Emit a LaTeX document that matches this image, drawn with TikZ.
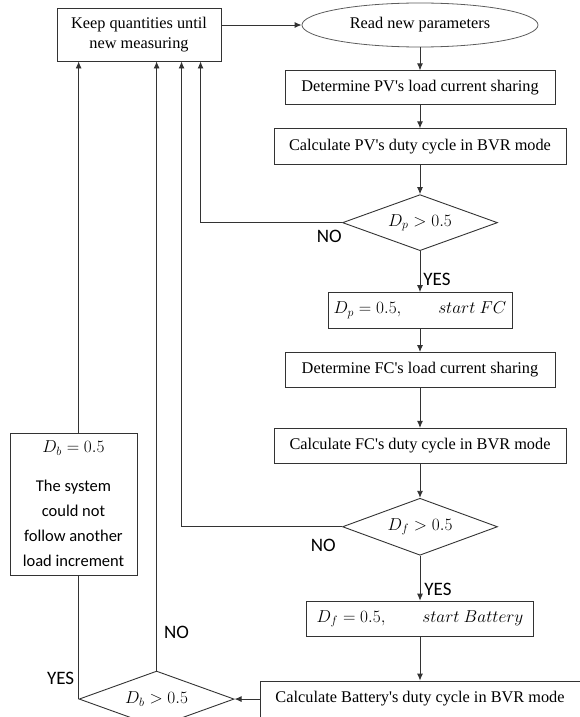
\documentclass[tikz,border=0pt]{standalone}
\usepackage{amsmath}
\usepackage{fontspec}
\setmainfont{Liberation Serif}
\newfontfamily\calibri{Carlito}
\usepackage{tikz}
\usetikzlibrary{arrows.meta,positioning,shapes.geometric}
\definecolor{linegray}{HTML}{333333}

\begin{document}
\begin{tikzpicture}[x=1pt, y=-1pt,
  node distance=23pt,
  box/.style={draw=linegray, line width=0.9pt, inner sep=0pt, align=center,
              font=\fontsize{16.3}{19.5}\selectfont, minimum height=35pt},
  cond/.style={draw=linegray, line width=0.9pt, diamond, aspect=2.75, inner sep=0pt,
               minimum width=155pt, minimum height=56pt, font=\fontsize{17}{20}\selectfont},
  readbox/.style={draw=linegray!80, line width=0.8pt, ellipse, inner sep=0pt,
                  font=\fontsize{16.3}{19.5}\selectfont},
  arrow/.style={-{Latex[length=7pt,width=6pt]}, line width=0.9pt, draw=linegray},
  wire/.style={line width=0.9pt, draw=linegray},
  answer/.style={font=\calibri\fontsize{19}{20}\selectfont, inner sep=0pt}
]
  \useasboundingbox (0,0) rectangle (579,717);

  \node[box, minimum width=164pt, minimum height=53pt] (keep) at (139,34.5)
    {Keep quantities until\\new measuring};
  \node[readbox, minimum width=236pt, minimum height=44pt] (read) at (420,25)
    {Read new parameters};
  \node[box, minimum width=270pt, minimum height=34pt, below=of read] (pv)
    {Determine PV\textquotesingle s load current sharing};
  \node[box, minimum width=292pt, minimum height=36pt, below=of pv] (calcpv)
    {Calculate PV\textquotesingle s duty cycle in BVR mode};
  \node[cond, below=29pt of calcpv] (dpq) {$D_p > 0.5$};
  \node[box, minimum width=184pt, minimum height=36pt, below=41pt of dpq] (dpset)
    {\fontsize{17}{20}\selectfont$D_p = 0.5, \qquad start\ FC$};
  \node[box, minimum width=270pt, below=of dpset] (fc)
    {Determine FC\textquotesingle s load current sharing};
  \node[box, minimum width=292pt, below=40pt of fc] (calcfc)
    {Calculate FC\textquotesingle s duty cycle in BVR mode};
  \node[cond, minimum height=57pt, below=34pt of calcfc] (dfq) {$D_f > 0.5$};
  \node[box, minimum width=227pt, below=45pt of dfq] (dfset)
    {\fontsize{17}{20}\selectfont$D_f = 0.5, \qquad start\ Battery$};
  \node[box, minimum width=320pt, minimum height=36pt, below=44pt of dfset] (calcbat)
    {Calculate Battery\textquotesingle s duty cycle in BVR mode};
  \node[cond, left=25pt of calcbat] (dbq) {$D_b > 0.5$};
  \node[box, minimum width=127pt, minimum height=142pt,
        font=\calibri\fontsize{16.5}{25}\selectfont] (dbbox) at (73.5,504)
    {$D_b = 0.5$\\[14pt]The system\\could not\\follow another\\load increment};

  % main column
  \draw[arrow] (keep.east |- read.west) -- (read.west);
  \draw[arrow] (read) -- (pv);
  \draw[arrow] (pv) -- (calcpv);
  \draw[arrow] (calcpv) -- (dpq);
  \draw[arrow] (dpq) -- (dpset)
    node[answer, pos=1, anchor=south west, xshift=3pt, yshift=6pt]{YES};
  \draw[arrow] (dpset) -- (fc);
  \draw[arrow] (fc) -- (calcfc);
  \draw[arrow] (calcfc) -- (dfq);
  \draw[arrow] (dfq) -- (dfset)
    node[answer, pos=1, anchor=south west, xshift=4pt, yshift=5pt]{YES};
  \draw[arrow] (dfset) -- (calcbat);
  \draw[arrow] (calcbat) -- (dbq);

  % back to keep
  \draw[arrow] (dpq.west) -| ([xshift=144pt]keep.south west)
    node[answer, pos=0, anchor=north east, yshift=-7pt]{NO};
  \draw[arrow] (dfq.west) -| ([xshift=125pt]keep.south west)
    node[answer, pos=0, anchor=north east, xshift=-6pt, yshift=-12pt]{NO};
  \draw[arrow] (dbq.north) -- (dbq.north |- keep.south)
    node[answer, pos=0, anchor=south west, xshift=7pt, yshift=32pt]{NO};
  \draw[wire] (dbq.west) -- (dbq.west |- dbbox.south)
    node[answer, pos=0, anchor=south east, xshift=-4pt, yshift=14pt]{YES};
  \draw[arrow] (dbbox.north -| dbq.west) -- (dbq.west |- keep.south);
\end{tikzpicture}
\end{document}
